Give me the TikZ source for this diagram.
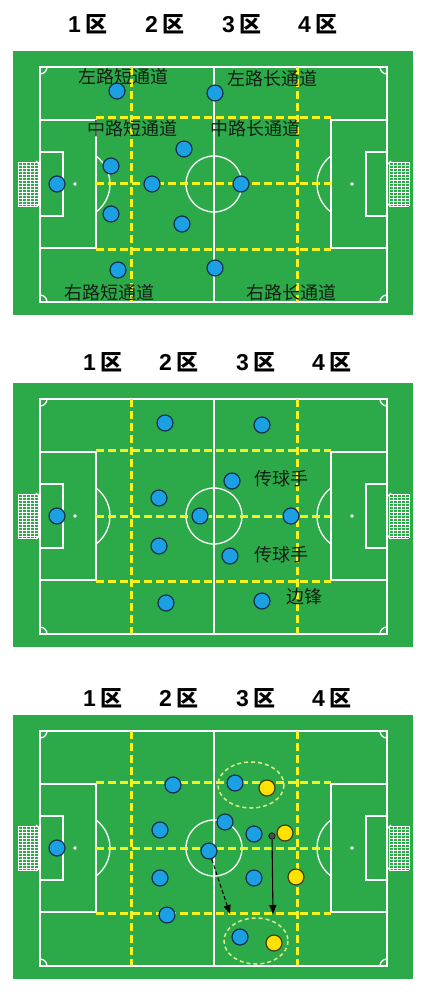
\documentclass[tikz,border=0pt]{standalone}
\usepackage{fontspec}
\newfontfamily\cjk{Noto Sans CJK SC}
\newfontfamily\latinfont{Liberation Sans}
\usetikzlibrary{arrows.meta}
\definecolor{fieldgreen}{RGB}{44,170,74}
\definecolor{zoneyellow}{RGB}{246,242,30}
\definecolor{pblue}{RGB}{28,160,228}
\definecolor{pnavy}{RGB}{16,48,80}
\definecolor{pyellow}{RGB}{255,226,0}
\definecolor{pyedge}{RGB}{70,60,10}
\definecolor{ringyellow}{RGB}{225,235,130}
\definecolor{labelink}{RGB}{20,30,20}
\tikzset{
  wline/.style={draw=white, line width=1.3pt},
  netline/.style={draw=white, line width=0.6pt},
  ydash/.style={draw=zoneyellow, line width=3pt, dash pattern=on 8pt off 4pt},
  pl/.style={circle, fill=pblue, draw=pnavy, line width=1.2pt, minimum size=16pt, inner sep=0pt},
  py/.style={circle, fill=pyellow, draw=pyedge, line width=1.2pt, minimum size=16pt, inner sep=0pt},
  lab/.style={font=\cjk\fontsize{18}{18}\selectfont, text=labelink, inner sep=0pt},
  ttl/.style={font=\fontsize{23}{23}\selectfont, inner sep=0pt},
  ring/.style={draw=ringyellow, line width=1.5pt, dash pattern=on 4pt off 3pt},
  darr/.style={draw=black, line width=1.1pt, dash pattern=on 4pt off 2.5pt, -{Triangle[length=9pt,width=7pt]}},
  sarr/.style={draw=black, line width=1.1pt, -{Triangle[length=9pt,width=7pt]}},
  ballst/.style={circle, fill=black!70, draw=black, line width=0.6pt, minimum size=6.5pt, inner sep=0pt}
}
\newcommand{\zonetitle}[1]{{\latinfont\bfseries #1}\hspace{5pt}{\cjk\bfseries\fontsize{22}{22}\selectfont 区}}
\newcommand{\drawpitch}{%
  \fill[fieldgreen] (13,51) rectangle (413,315);
  \draw[wline] (40,67) rectangle (387,302);
  \draw[wline] (214,67) -- (214,302);
  \draw[wline] (40,120) rectangle (96,248);
  \draw[wline] (331,120) rectangle (387,248);
  \draw[wline] (40,152) rectangle (63,216);
  \draw[wline] (366,152) rectangle (387,216);
  \draw[wline] (214,184) circle[radius=28];
  \fill[white] (75,184) circle[radius=1.8];
  \fill[white] (352,184) circle[radius=1.8];
  \draw[wline] (75,184) ++(-53.13:35) arc[start angle=-53.13,end angle=53.13,radius=35];
  \draw[wline] (352,184) ++(126.87:35) arc[start angle=126.87,end angle=233.13,radius=35];
  \begin{scope}
    \clip (40,67) rectangle (387,302);
    \foreach \cx/\cy in {40/67,387/67,40/302,387/302} \draw[wline] (\cx,\cy) circle[radius=7];
  \end{scope}
  \foreach \v in {18,22,26,30,34,38} \draw[netline] (\v,162) -- (\v,206);
  \foreach \h in {162,165,...,204} \draw[netline] (18,\h) -- (38,\h);
  \draw[netline] (18,206) -- (38,206);
  \draw[wline] (36,161) -- (40,165);
  \draw[wline] (36,207) -- (40,203);
  \foreach \v in {389,393,397,401,405,409} \draw[netline] (\v,162) -- (\v,206);
  \foreach \h in {162,165,...,204} \draw[netline] (389,\h) -- (409,\h);
  \draw[netline] (389,206) -- (409,206);
  \draw[wline] (391,161) -- (387,165);
  \draw[wline] (391,207) -- (387,203);
  \draw[ydash] (131,67) -- (131,302);
  \draw[ydash] (297,67) -- (297,302);
  \foreach \yy in {118,184,249} \draw[ydash] (96,\yy) -- (331,\yy);
}
\begin{document}
\begin{tikzpicture}[x=1pt,y=-1pt]
\useasboundingbox (0,0) rectangle (424,995);
\fill[white] (0,0) rectangle (424,995);

% ---------- panel 1 ----------
\node[ttl] (t1a) at (88,24) {\zonetitle{1}};
\node[ttl] (t1b) at (165,24) {\zonetitle{2}};
\node[ttl] (t1c) at (242,24) {\zonetitle{3}};
\node[ttl] (t1d) at (318,24) {\zonetitle{4}};
\begin{scope}
  \drawpitch
  \node[pl] (a1) at (117,91) {};
  \node[pl] (a2) at (215,93) {};
  \node[pl] (a3) at (184,149) {};
  \node[pl] (a4) at (111,166) {};
  \node[pl] (a5) at (57,184) {};
  \node[pl] (a6) at (152,184) {};
  \node[pl] (a7) at (241,184) {};
  \node[pl] (a8) at (111,214) {};
  \node[pl] (a9) at (182,224) {};
  \node[pl] (a10) at (118,270) {};
  \node[pl] (a11) at (215,268) {};
  \node[lab] (la1) at (123,77) {左路短通道};
  \node[lab] (la2) at (272,79) {左路长通道};
  \node[lab] (la3) at (132,129) {中路短通道};
  \node[lab] (la4) at (255,129) {中路长通道};
  \node[lab] (la5) at (109,293) {右路短通道};
  \node[lab] (la6) at (291,293) {右路长通道};
\end{scope}

% ---------- panel 2 ----------
\node[ttl] (t2a) at (103,362) {\zonetitle{1}};
\node[ttl] (t2b) at (179,362) {\zonetitle{2}};
\node[ttl] (t2c) at (256,362) {\zonetitle{3}};
\node[ttl] (t2d) at (332,362) {\zonetitle{4}};
\begin{scope}[shift={(0,332)}]
  \drawpitch
  \node[pl] (b1) at (165,91) {};
  \node[pl] (b2) at (262,93) {};
  \node[pl] (b3) at (232,149) {};
  \node[pl] (b4) at (159,166) {};
  \node[pl] (b5) at (57,184) {};
  \node[pl] (b6) at (200,184) {};
  \node[pl] (b7) at (291,184) {};
  \node[pl] (b8) at (159,214) {};
  \node[pl] (b9) at (230,224) {};
  \node[pl] (b10) at (166,271) {};
  \node[pl] (b11) at (262,269) {};
  \node[lab] (lb1) at (281,147) {传球手};
  \node[lab] (lb2) at (281,223) {传球手};
  \node[lab] (lb3) at (304,265) {边锋};
\end{scope}

% ---------- panel 3 ----------
\node[ttl] (t3a) at (103,698) {\zonetitle{1}};
\node[ttl] (t3b) at (179,698) {\zonetitle{2}};
\node[ttl] (t3c) at (256,698) {\zonetitle{3}};
\node[ttl] (t3d) at (332,698) {\zonetitle{4}};
\begin{scope}[shift={(0,664)}]
  \drawpitch
  \draw[ring] (251,121) ellipse[x radius=33, y radius=23];
  \draw[ring] (256,277) ellipse[x radius=32, y radius=23];
  \node[pl] (c1) at (173,121) {};
  \node[pl] (c2) at (235,119) {};
  \node[pl] (c3) at (225,158) {};
  \node[pl] (c4) at (160,166) {};
  \node[pl] (c5) at (254,170) {};
  \node[pl] (c6) at (57,184) {};
  \node[pl] (c7) at (209,187) {};
  \node[pl] (c8) at (160,214) {};
  \node[pl] (c9) at (254,214) {};
  \node[pl] (c10) at (167,251) {};
  \node[pl] (c11) at (240,273) {};
  \node[py] (y1) at (267,124) {};
  \node[py] (y2) at (285,169) {};
  \node[py] (y3) at (296,213) {};
  \node[py] (y4) at (274,279) {};
  \node[ballst] (ball) at (272,172) {};
  \coordinate (dend) at (230,250);
  \coordinate (send) at (273,250);
  \draw[darr] (c7) -- (dend);
  \draw[sarr] (ball) -- (send);
\end{scope}
\end{tikzpicture}
\end{document}
